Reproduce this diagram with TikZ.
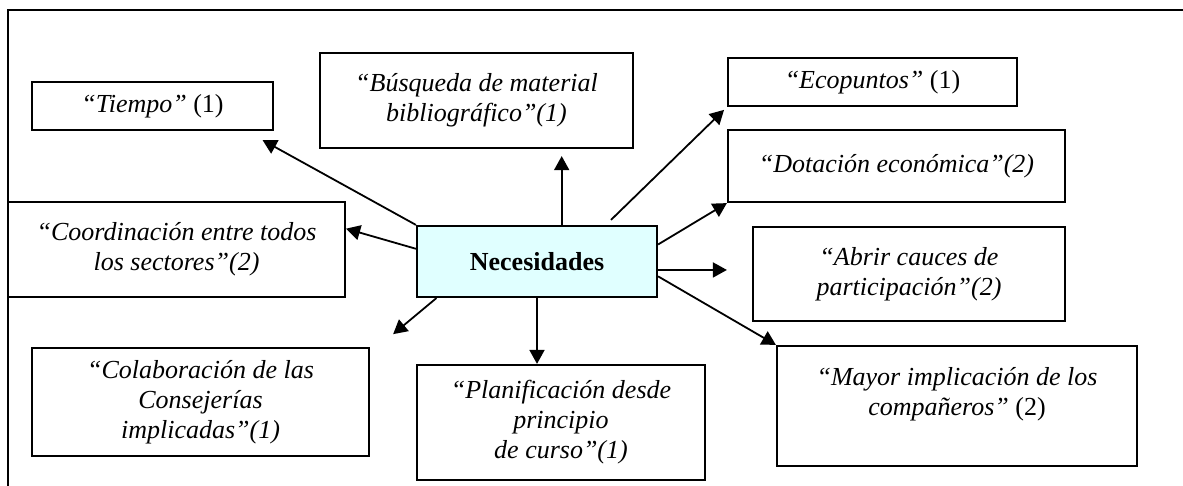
\documentclass[tikz,border=0pt]{standalone}
\usepackage{fontspec}
\setmainfont{Liberation Serif}
\usepackage{tikz}
\usetikzlibrary{arrows.meta, calc}
\definecolor{celeste}{HTML}{E0FFFF}

\begin{document}
\begin{tikzpicture}[x=0.5pt, y=-0.5pt,
    caja/.style={draw, line width=1.1pt, inner sep=0pt, align=center, font=\fontsize{13}{15}\selectfont\itshape},
    flecha/.style={-{Triangle[length=7pt, width=7.5pt]}, line width=0.9pt}]
  \useasboundingbox (0,0) rectangle (1183,486);
  % Marco
  \draw[line width=1pt] (1183,10) -- (8,10) -- (8,486);

  % Nodo central
  \node[caja, fill=celeste, minimum width=120pt, minimum height=35.5pt, font=\fontsize{13}{15}\selectfont\bfseries] (necesidades) at (537,261.5) {Necesidades};

  % Cajas de necesidades
  \node[caja, minimum width=120.5pt, minimum height=24pt] (tiempo) at (152.5,106) {“Tiempo” \textup{(1)}};
  \node[caja, minimum width=156.5pt, minimum height=47.5pt] (busqueda) at (476.5,100.5) {“Búsqueda de material\\ bibliográfico”(1)};
  \node[caja, minimum width=144.5pt, minimum height=24pt] (ecopuntos) at (872.5,82) {“Ecopuntos” \textup{(1)}};
  \node[caja, minimum width=168.5pt, minimum height=36pt] (dotacion) at (896.5,166) {“Dotación económica”(2)};
  \node[caja, minimum width=168.5pt, minimum height=47.5pt] (coordinacion) at (176.5,249.5) {“Coordinación entre todos\\ los sectores”(2)};
  \node[caja, minimum width=156pt, minimum height=47pt] (cauces) at (909,274) {“Abrir cauces de\\ participación”(2)};
  \node[caja, minimum width=180pt, minimum height=60pt] (implicacion) at (957,406) {“Mayor implicación de los\\ compañeros” \textup{(2)}\\ {}};
  \node[caja, minimum width=168.5pt, minimum height=54pt] (colaboracion) at (200.5,402) {“Colaboración de las\\ Consejerías\\ implicadas”(1)};
  \node[caja, minimum width=144pt, minimum height=57.5pt] (planificacion) at (561,422.5) {“Planificación desde\\ principio\\ de curso”(1)};

  % Flechas
  \draw[flecha, shorten >=9.4pt] (necesidades.north west) -- (tiempo.-15);
  \draw[flecha] (necesidades.174) -- (coordinacion.7);
  \draw[flecha, shorten >=3.5pt] (necesidades.56) -- (necesidades.56 |- busqueda.south);
  \draw[flecha, shorten <=3.6pt, shorten >=2pt] (necesidades.28) -- (ecopuntos.south west);
  \draw[flecha] (necesidades.8) -- (dotacion.south west);
  \draw[flecha, shorten >=12.5pt] (necesidades.-4) -- (cauces.west |- necesidades.-4);
  \draw[flecha] (necesidades.-7) -- (implicacion.north west);
  \draw[flecha, shorten >=15pt] (necesidades.200) -- (colaboracion.16);
  \draw[flecha] (necesidades.south) -- (necesidades.south |- planificacion.north);
\end{tikzpicture}
\end{document}
